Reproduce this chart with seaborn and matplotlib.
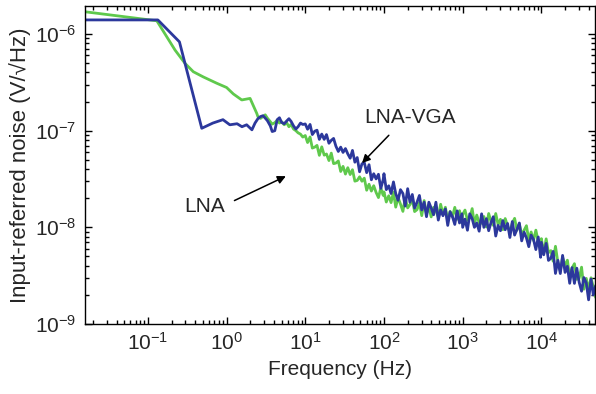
import matplotlib
matplotlib.use("Agg")
import matplotlib.pyplot as plt
from matplotlib.ticker import LogLocator, NullFormatter
import numpy as np
import pandas as pd
import seaborn as sns

# ---- measured spectra, log10 of noise in V/sqrt(Hz) --------------------------
# low-frequency section
lna_vga_low_f = [0.0150, 0.134, 0.252, 0.484, 0.67, 0.90, 1.10, 1.36, 1.57, 1.80, 2.10, 2.30]
lna_vga_low_log = [-5.854, -5.854, -6.081, -6.975, -6.921, -6.886, -6.939, -6.928, -6.959,
                   -6.939, -6.991, -6.921]

lna_low_f = [0.0150, 0.130, 0.222, 0.297, 0.378, 0.507, 0.75, 1.00, 1.22, 1.56, 1.99, 2.20, 2.42]
lna_low_log = [-5.767, -5.863, -6.167, -6.304, -6.390, -6.444, -6.509, -6.553, -6.620, -6.682,
               -6.666, -6.745, -6.821]

# shared frequency bins of the noisy section (Hz)
band_f = [
    2.5, 2.7, 2.9, 3.1, 3.3, 3.6, 3.8, 4.1, 4.4, 4.7, 5.0, 5.4, 5.8, 6.2, 6.6, 7.1, 7.6, 8.1, 8.7, 9.3,
    10, 10.7, 11.5, 12.3, 13.2, 14.1, 15.1, 16.2, 17.4, 18.6, 20, 21.4, 22.9, 24.5, 26.3, 28.2, 30.2,
    32.4, 34.7, 37.2, 39.8, 42.7, 45.7, 49, 52.5, 56.2, 60.3, 64.6, 69.2, 74.1, 79.4, 85.1, 91.2, 97.7,
    100, 107, 115, 123, 132, 141, 151, 162, 174, 186, 200, 214, 229, 245, 263, 282, 302,
    324, 347, 372, 398, 427, 457, 490, 525, 562, 603, 646, 692, 741, 794, 851, 912, 977,
    1000, 1070, 1150, 1230, 1320, 1410, 1510, 1620, 1740, 1860, 2000, 2140, 2290, 2450, 2630, 2820, 3020,
    3240, 3470, 3720, 3980, 4270, 4570, 4900, 5250, 5620, 6030, 6460, 6920, 7410, 7940, 8510, 9120, 9770,
    10000, 10700, 11500, 12300, 13200, 14100, 15100, 16200, 17400, 18600, 20000, 21400, 22900, 24500,
    26300, 28200, 30200, 32400, 34700, 37200, 39800, 42700, 45700, 49000,
]

# LNA-VGA in the same bins
lna_vga_band_log = [
    -6.876, -6.854, -6.845, -6.870, -6.896, -6.951, -7.009, -7.000, -6.886, -6.866,
    -6.914, -6.928, -6.900, -6.876, -6.903, -6.951, -6.983, -6.959, -6.921, -6.936,
    -6.930, -6.985, -6.935, -7.040, -7.005, -6.995, -7.090, -7.035, -7.090, -7.040,
    -7.130, -7.100, -7.080, -7.160, -7.215, -7.170, -7.225, -7.185, -7.240, -7.285,
    -7.204, -7.326, -7.278, -7.425, -7.343, -7.329, -7.434, -7.352, -7.508, -7.445,
    -7.499, -7.451, -7.597, -7.506,
    -7.445, -7.610, -7.570, -7.650, -7.530, -7.650, -7.720, -7.610, -7.650, -7.780,
    -7.600, -7.740, -7.660, -7.800, -7.740, -7.670, -7.820, -7.740, -7.890, -7.740,
    -7.800, -7.870, -7.740, -7.925, -7.820, -7.880, -7.810, -7.980, -7.840, -7.890,
    -7.970, -7.830, -7.955, -7.860,
    -8.000, -7.915, -8.030, -7.860, -7.910, -8.000, -7.955, -8.040, -7.860, -8.000,
    -7.910, -8.035, -7.950, -7.890, -8.090, -7.980, -8.035, -7.930, -8.025, -7.960,
    -8.105, -7.940, -8.080, -8.020, -7.955, -8.140, -8.050, -8.110, -8.200, -8.080,
    -8.125, -8.230, -8.100, -8.310,
    -8.155, -8.284, -8.166, -8.342, -8.320, -8.249, -8.477, -8.341, -8.478, -8.290,
    -8.466, -8.403, -8.579, -8.417, -8.580, -8.423, -8.568, -8.661, -8.520, -8.574,
    -8.750, -8.536, -8.699, -8.602,
]

# LNA in the same bins
lna_band_log = [
    -6.854, -6.873, -6.854, -6.836, -6.870, -6.907, -6.932, -6.917, -6.893, -6.921,
    -6.907, -6.939, -6.917, -6.959, -6.936, -6.983, -7.000, -7.022, -7.036, -7.066,
    -7.050, -7.123, -7.065, -7.180, -7.170, -7.152, -7.255, -7.167, -7.253, -7.241,
    -7.309, -7.232, -7.341, -7.335, -7.313, -7.422, -7.369, -7.449, -7.383, -7.454,
    -7.404, -7.522, -7.515, -7.477, -7.523, -7.491, -7.616, -7.554, -7.625, -7.569,
    -7.639, -7.692, -7.592, -7.669,
    -7.633, -7.738, -7.673, -7.744, -7.636, -7.791, -7.692, -7.759, -7.835, -7.698,
    -7.799, -7.764, -7.712, -7.837, -7.817, -7.746, -7.879, -7.723, -7.856, -7.793,
    -7.892, -7.793, -7.830, -7.893, -7.761, -7.866, -7.792, -7.932, -7.834, -7.890,
    -7.793, -7.916, -7.828, -7.951,
    -7.868, -7.821, -7.927, -7.904, -7.806, -7.962, -7.873, -7.953, -7.958, -7.888,
    -7.996, -7.857, -7.940, -7.980, -7.857, -7.973, -7.917, -8.024, -7.909, -7.982,
    -8.054, -7.957, -7.907, -8.029, -7.965, -8.078, -8.030, -7.983, -8.131, -8.048,
    -8.136, -8.029, -8.151, -8.205,
    -8.117, -8.271, -8.119, -8.262, -8.241, -8.350, -8.196, -8.363, -8.452, -8.309,
    -8.398, -8.340, -8.513, -8.422, -8.376, -8.538, -8.525, -8.412, -8.640, -8.528,
    -8.646, -8.522, -8.619, -8.726,
]

x_ticks = [1e-1, 1e0, 1e1, 1e2, 1e3, 1e4]
y_ticks = [1e-9, 1e-8, 1e-7, 1e-6]

GREEN = "#5fc94c"
BLUE = "#2c389c"

# ---- assemble tidy tables ---------------------------------------------------
lna = pd.DataFrame({
    "freq": lna_low_f + band_f,
    "noise": 10.0 ** np.array(lna_low_log + lna_band_log),
})
lna_vga = pd.DataFrame({
    "freq": lna_vga_low_f + band_f,
    "noise": 10.0 ** np.array(lna_vga_low_log + lna_vga_band_log),
})

# ---- figure -----------------------------------------------------------------
sns.set_style("ticks")
plt.rcParams["font.family"] = ["Liberation Sans", "DejaVu Sans"]
plt.rcParams["mathtext.fontset"] = "custom"
plt.rcParams["mathtext.rm"] = "Liberation Sans"
plt.rcParams["mathtext.it"] = "Liberation Sans:italic"
plt.rcParams["mathtext.bf"] = "Liberation Sans:bold"

fig, ax = plt.subplots(figsize=(5.96, 3.94), dpi=100)
fig.subplots_adjust(left=85 / 596, right=595 / 596, bottom=70 / 394, top=388 / 394)

sns.lineplot(data=lna, x="freq", y="noise", color=GREEN, lw=2.0,
             estimator=None, sort=False, ax=ax)
sns.lineplot(data=lna_vga, x="freq", y="noise", color=BLUE, lw=2.0,
             estimator=None, sort=False, ax=ax)

ax.set_xscale("log")
ax.set_yscale("log")
ax.set_xlim(0.0159, 4.8e4)
ax.set_ylim(1e-9, 1.95e-6)

ax.set_xticks(x_ticks)
ax.set_yticks(y_ticks)
ax.xaxis.set_minor_locator(LogLocator(base=10, subs=range(2, 10), numticks=100))
ax.yaxis.set_minor_locator(LogLocator(base=10, subs=range(2, 10), numticks=100))
ax.xaxis.set_minor_formatter(NullFormatter())
ax.yaxis.set_minor_formatter(NullFormatter())

ax.tick_params(which="both", direction="in", top=True, right=True, color="black", width=1.0)
ax.tick_params(which="major", length=5, labelsize=15, pad=6)
ax.tick_params(which="minor", length=3)
for sp in ax.spines.values():
    sp.set_visible(True)
    sp.set_linewidth(1.0)
    sp.set_color("black")

ax.set_xlabel("Frequency (Hz)", fontsize=15, labelpad=4)
ax.set_ylabel("Input-referred noise (V/\u221aHz)", fontsize=16, labelpad=3)

# curve labels with pointers
ax.text(0.52, 1.66e-8, "LNA", fontsize=15, ha="center", va="center")
ax.annotate("", xy=(6.1, 3.48e-8), xytext=(1.17, 1.84e-8),
            arrowprops=dict(arrowstyle="-|>", color="black", lw=1.1, mutation_scale=12))
ax.text(214, 1.38e-7, "LNA-VGA", fontsize=15, ha="center", va="center")
ax.annotate("", xy=(49.7, 4.41e-8), xytext=(122, 9.4e-8),
            arrowprops=dict(arrowstyle="-|>", color="black", lw=1.1, mutation_scale=12))

fig.savefig("out.png", dpi=100)
